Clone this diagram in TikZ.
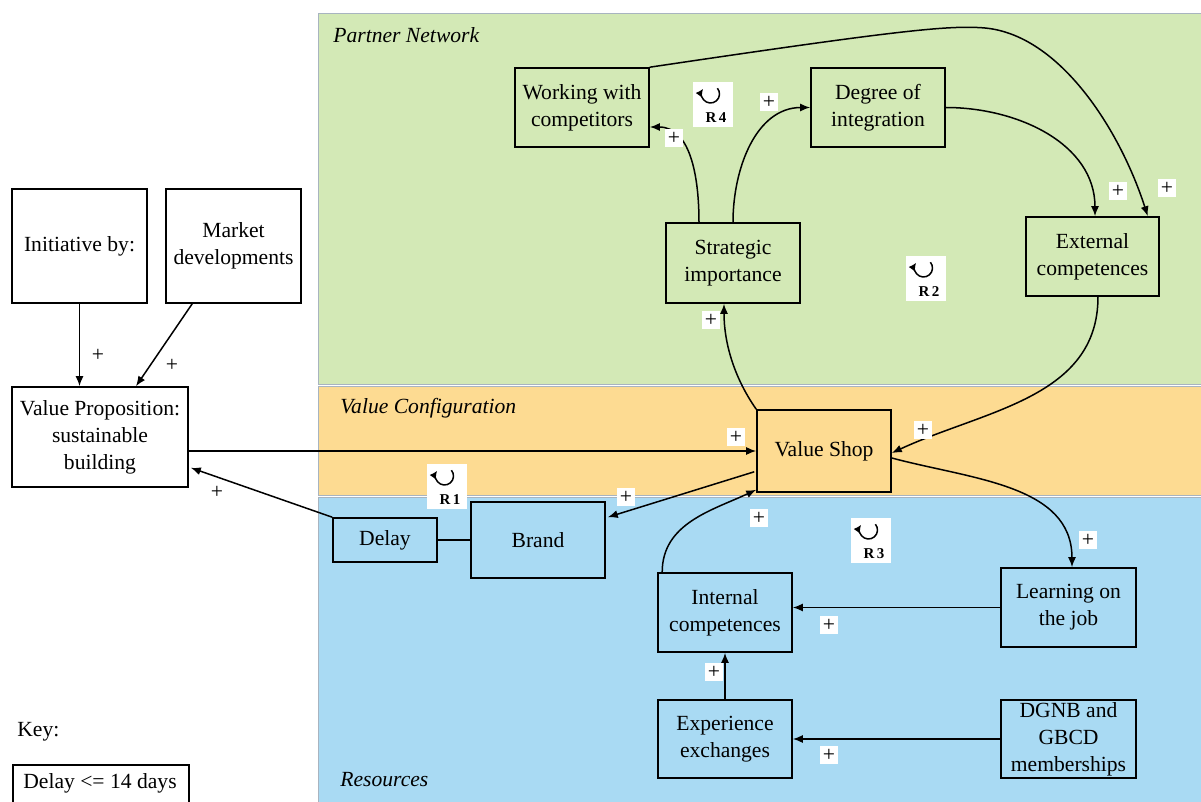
\documentclass[tikz,border=0pt]{standalone}
\usepackage{fontspec}
\setmainfont{Liberation Serif}
\usetikzlibrary{arrows.meta,calc}
\definecolor{partnergreen}{HTML}{D3E9B6}
\definecolor{configorange}{HTML}{FDDB92}
\definecolor{resourceblue}{HTML}{A9DAF3}
\definecolor{zoneedge}{HTML}{A8B4C0}

\begin{document}
\begin{tikzpicture}[x=0.5pt,y=0.5pt,
  box/.style={draw=black, line width=0.8pt, align=center, inner sep=0pt,
    font=\fontsize{10.8}{13.5}\selectfont},
  boxsize/.style 2 args={minimum width=#1*0.5pt, minimum height=#2*0.5pt},
  arr/.style={line width=0.75pt, -{Latex[length=5pt,width=4pt]}},
  link/.style={line width=0.75pt},
  sign/.style={fill=white, inner sep=1.4pt, font=\fontsize{10.8}{12}\selectfont},
  zone/.style={draw=zoneedge, line width=0.45pt},
  zonelabel/.style={anchor=west, inner sep=0pt, font=\fontsize{10.8}{13}\selectfont\itshape},
  loopsign/.pic={
    \fill[white] (-20,-22.5) rectangle (20,22.5);
    % open loop with its head on the upper left
    \draw[line width=0.75pt, -{Latex[length=3.8pt,width=3.8pt]}]
      (4.4,16.8) arc[start angle=40, end angle=-215, radius=9];
    \node[inner sep=0pt, font=\fontsize{7.5}{8}\selectfont\bfseries] (lbl) at (3,-13) {\tikzpictext};
  }
]
\clip (0,0) rectangle (1201,-802);
\fill[white] (0,0) rectangle (1201,-802);

% ---- the three zones ----
\draw[zone, fill=partnergreen] (318,-13) rectangle (1210,-384);
\draw[zone, fill=configorange] (318,-386) rectangle (1210,-495);
\draw[zone, fill=resourceblue] (318,-497) rectangle (1210,-810);
\node[zonelabel] (zpartner) at (333,-35) {Partner Network};
\node[zonelabel] (zconfig) at (340,-408) {Value Configuration};
\node[zonelabel] (zres) at (340,-780) {Resources};

% ---- variables ----
\node[box, boxsize={135}{114}] (init) at (79.5,-246) {Initiative by:};
\node[box, boxsize={135}{114}] (market) at (233.5,-246) {Market\\developments};
\node[box, boxsize={176}{100}] (vp) at (100,-437) {Value Proposition:\\sustainable\\building};

\node[box, boxsize={134}{79}] (work) at (582,-107.5) {Working with\\competitors};
\node[box, boxsize={134}{79}] (degree) at (878,-107.5) {Degree of\\integration};
\node[box, boxsize={134}{80}] (strat) at (733,-263) {Strategic\\importance};
\node[box, boxsize={133}{79}] (ext) at (1092.5,-256.5) {External\\competences};

\node[box, boxsize={134}{82}] (vshop) at (824,-451) {Value Shop};

\node[box, boxsize={104}{44}] (delay) at (385,-540) {Delay};
\node[box, boxsize={134}{76}] (brand) at (538,-540) {Brand};
\node[box, boxsize={134}{79}] (intc) at (725,-612.5) {Internal\\competences};
\node[box, boxsize={135}{79}] (learn) at (1068.5,-607.5) {Learning on\\the job};
\node[box, boxsize={134}{78}] (exp) at (725,-739) {Experience\\exchanges};
\node[box, boxsize={135}{78}] (dgnb) at (1068.5,-739) {DGNB and\\GBCD\\memberships};

% ---- key ----
\node[anchor=west, inner sep=0pt, font=\fontsize{10.8}{13}\selectfont] (keytitle) at (17,-732) {Key:};
\node[box, boxsize={176}{40}, anchor=north west] (keybox) at (12,-764) {};
\node[inner sep=0pt, font=\fontsize{10.8}{13}\selectfont] (keytext) at (100,-783) {Delay <= 14 days};

% ---- connectors ----
\draw[arr] (init.south) -- (vp.north -| init.south);
\draw[arr] ($(market.south west)+(27,0)$) -- ($(vp.north)+(36,0)$);
\draw[arr] (vshop.west -| vp.east) -- (vshop.west);
\draw[arr] (delay.north west) -- ($(vp.south east)+(2,20)$);
\draw[link] (delay.east) -- (brand.west);
\draw[arr] ($(vshop.south west)+(-2,21)$) -- ($(brand.north east)+(2,-16)$);
\draw[arr] ($(intc.north west)+(5,0)$) to[out=90, in=205] ($(vshop.south west)+(0,3)$);
\draw[arr] (vshop.north west) to[out=125, in=-90, looseness=0.9] ($(strat.south)+(-9,0)$);
\draw[arr] ($(strat.north)+(-34,0)$) to[out=90, in=0] ($(work.east)+(0,-19.5)$);
\draw[arr] (strat.north) to[out=90, in=180] (degree.west);
\draw[arr] (degree.east) to[out=0, in=90] ($(ext.north)+(2.5,0)$);
\draw[arr] (work.north east) .. controls (900,-30) and (950,-25) .. (985,-28)
  .. controls (1060,-35) and (1120,-130) .. ($(ext.north east)+(-12,0)$);
\draw[arr] ($(ext.south)+(5.5,0)$) to[out=-90, in=25] ($(vshop.east)+(0,-2)$);
\draw[arr] ($(vshop.east)+(0,-7)$) to[out=-15, in=90] ($(learn.north)+(3.5,0)$);
\draw[arr] (learn.west) -- (learn.west -| intc.east);
\draw[arr] (dgnb.west) -- (exp.east);
\draw[arr] (exp.north) -- (intc.south);

% ---- polarity signs ----
\node[sign] (s1) at (98,-355) {+};
\node[sign] (s2) at (172,-365) {+};
\node[sign] (s3) at (217,-492) {+};
\node[sign] (s4) at (736,-437) {+};
\node[sign] (s5) at (626,-497) {+};
\node[sign] (s6) at (759,-518) {+};
\node[sign] (s7) at (711,-320) {+};
\node[sign] (s8) at (674,-138) {+};
\node[sign] (s9) at (769,-102) {+};
\node[sign] (s10) at (1118,-191) {+};
\node[sign] (s11) at (1167,-188) {+};
\node[sign] (s12) at (923,-430) {+};
\node[sign] (s13) at (1088,-540) {+};
\node[sign] (s14) at (829,-625) {+};
\node[sign] (s15) at (714,-672) {+};
\node[sign] (s16) at (829,-755) {+};

% ---- reinforcing loops ----
\pic[pic text={R\,1}] (r1) at (447,-487) {loopsign};
\pic[pic text={R\,2}] (r2) at (926,-279) {loopsign};
\pic[pic text={R\,3}] (r3) at (871,-541) {loopsign};
\pic[pic text={R\,4}] (r4) at (713,-105) {loopsign};
\end{tikzpicture}
\end{document}
